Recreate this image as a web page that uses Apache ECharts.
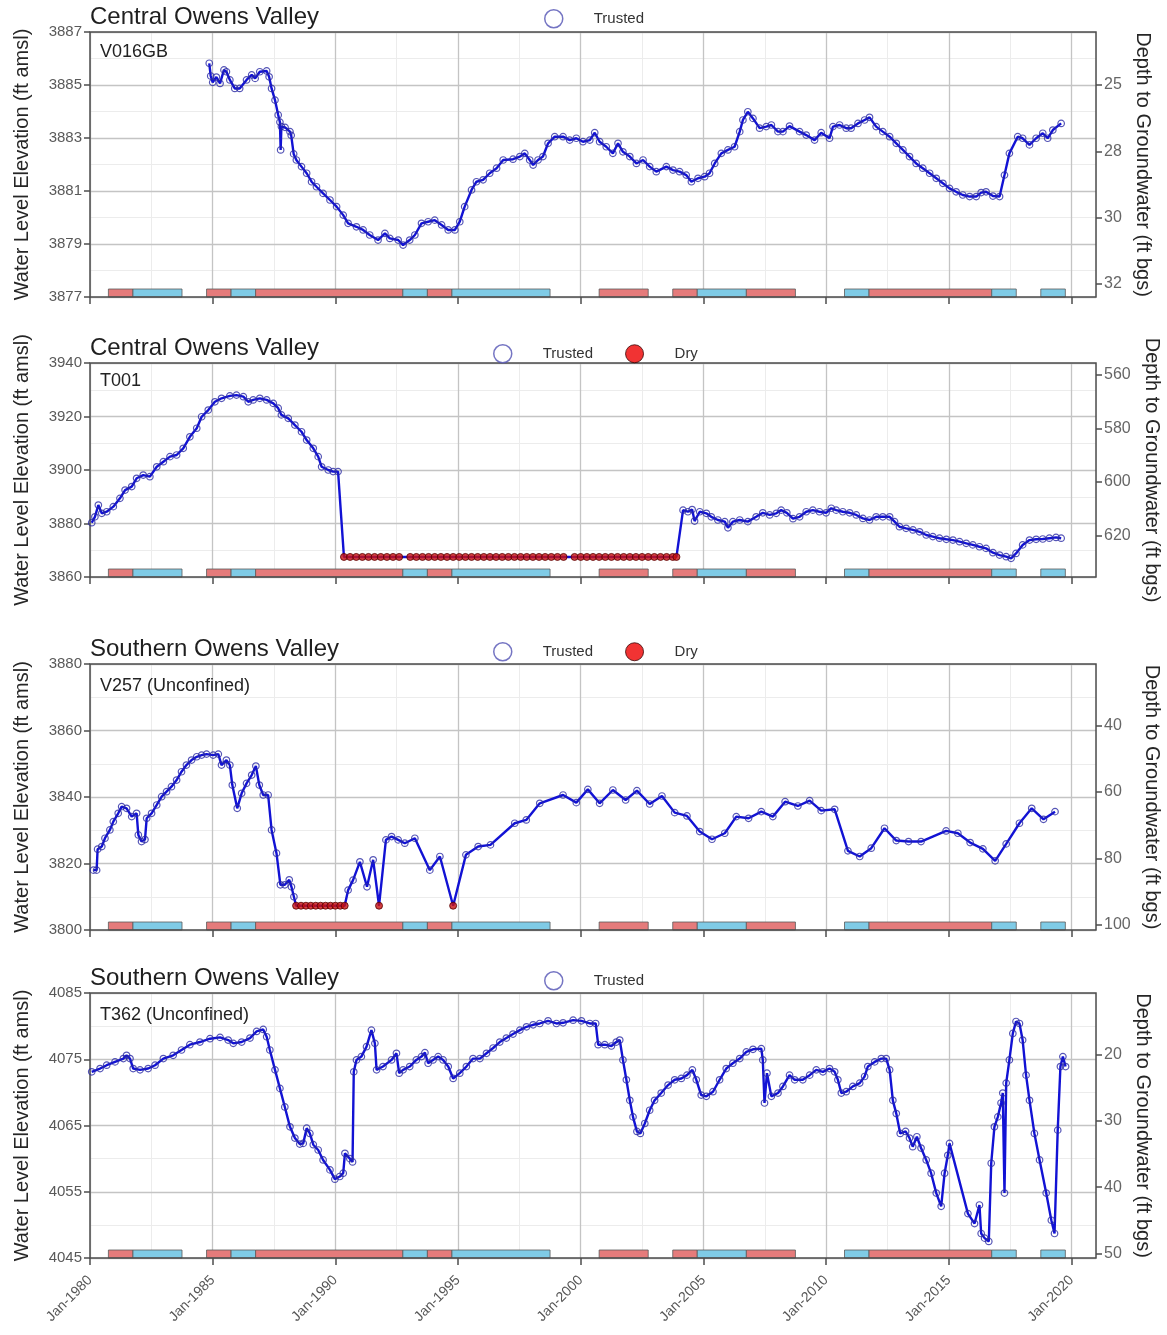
<!DOCTYPE html>
<html><head><meta charset="utf-8">
<script src="https://cdn.jsdelivr.net/npm/echarts@6/dist/echarts.min.js"></script>
<style>html,body{margin:0;padding:0;background:#fff}#c{width:1167px;height:1335px}</style>
</head><body><div id="c"></div>
<script>
// ---------- DATA ----------
const xTickYears = [1980,1985,1990,1995,2000,2005,2010,2015,2020];

// Water-year type bars (start, end as decimal years)
const wyStart = [1980.75,1981.75,1984.75,1985.75,1986.75,1992.75,1993.75,1994.75,2000.75,2003.75,2004.75,2006.75,2010.75,2011.75,2016.75,2018.75];
const wyEnd   = [1981.75,1983.75,1985.75,1986.75,1992.75,1993.75,1994.75,1998.75,2002.75,2004.75,2006.75,2008.75,2011.75,2016.75,2017.75,2019.75];
const wyType  = ['Dry','Wet','Dry','Wet','Dry','Wet','Dry','Wet','Dry','Dry','Wet','Dry','Wet','Dry','Wet','Wet'];

// Panel 1: V016GB
const v016gbTrusted = [[1984.86,3885.82],[1984.92,3885.34],[1985.0,3885.1],[1985.15,3885.3],[1985.3,3885.06],[1985.46,3885.57],[1985.56,3885.5],[1985.7,3885.19],[1985.9,3884.87],[1986.1,3884.87],[1986.38,3885.19],[1986.59,3885.38],[1986.73,3885.25],[1986.92,3885.5],[1987.2,3885.53],[1987.3,3885.31],[1987.4,3884.87],[1987.54,3884.43],[1987.67,3883.87],[1987.74,3883.6],[1987.77,3882.55],[1987.8,3883.43],[1987.95,3883.4],[1988.15,3883.24],[1988.2,3883.1],[1988.3,3882.4],[1988.41,3882.17],[1988.62,3881.92],[1988.83,3881.67],[1989.03,3881.35],[1989.23,3881.16],[1989.5,3880.91],[1989.78,3880.66],[1990.05,3880.41],[1990.32,3880.09],[1990.52,3879.78],[1990.86,3879.65],[1991.13,3879.53],[1991.4,3879.34],[1991.74,3879.15],[1992.02,3879.4],[1992.22,3879.21],[1992.56,3879.15],[1992.76,3878.96],[1993.03,3879.15],[1993.24,3879.34],[1993.51,3879.78],[1993.78,3879.84],[1994.05,3879.9],[1994.33,3879.72],[1994.6,3879.53],[1994.87,3879.53],[1995.07,3879.84],[1995.27,3880.41],[1995.55,3881.04],[1995.75,3881.35],[1996.02,3881.42],[1996.29,3881.67],[1996.57,3881.86],[1996.84,3882.17],[1997.24,3882.2],[1997.52,3882.3],[1997.72,3882.42],[1997.92,3882.17],[1998.06,3881.98],[1998.26,3882.17],[1998.46,3882.3],[1998.67,3882.8],[1998.94,3883.05],[1999.28,3883.05],[1999.55,3882.92],[1999.82,3882.99],[2000.09,3882.86],[2000.37,3882.92],[2000.57,3883.2],[2000.77,3882.86],[2001.04,3882.67],[2001.31,3882.42],[2001.52,3882.8],[2001.72,3882.48],[2002.0,3882.3],[2002.27,3882.04],[2002.54,3882.17],[2002.81,3881.92],[2003.08,3881.73],[2003.49,3881.92],[2003.76,3881.79],[2004.03,3881.73],[2004.3,3881.6],[2004.51,3881.35],[2004.78,3881.48],[2005.05,3881.54],[2005.25,3881.67],[2005.46,3882.04],[2005.73,3882.42],[2006.0,3882.55],[2006.27,3882.67],[2006.48,3883.24],[2006.61,3883.68],[2006.81,3883.99],[2007.02,3883.74],[2007.29,3883.37],[2007.56,3883.43],[2007.77,3883.49],[2008.04,3883.24],[2008.24,3883.24],[2008.51,3883.45],[2008.92,3883.24],[2009.19,3883.11],[2009.53,3882.92],[2009.8,3883.2],[2010.14,3882.99],[2010.28,3883.43],[2010.55,3883.49],[2010.82,3883.37],[2011.02,3883.37],[2011.3,3883.55],[2011.57,3883.68],[2011.77,3883.78],[2012.04,3883.43],[2012.31,3883.24],[2012.59,3883.05],[2012.86,3882.8],[2013.13,3882.55],[2013.4,3882.3],[2013.67,3882.04],[2013.94,3881.86],[2014.22,3881.67],[2014.49,3881.48],[2014.76,3881.29],[2015.03,3881.1],[2015.3,3880.97],[2015.57,3880.85],[2015.85,3880.79],[2016.12,3880.79],[2016.32,3880.94],[2016.52,3880.97],[2016.8,3880.81],[2017.07,3880.79],[2017.27,3881.6],[2017.47,3882.42],[2017.81,3883.05],[2018.01,3882.99],[2018.29,3882.74],[2018.56,3882.99],[2018.83,3883.18],[2019.03,3882.99],[2019.24,3883.3],[2019.58,3883.55]];
const v016gbDry = [];
const elevTicks1 = [3877,3879,3881,3883,3885,3887];
const depthTicks1 = [25,27.5,30,32.5];
const depthLabels1 = ['25','28','30','32'];
const landSurface1 = 3910;

// Panel 2: T001
const t001Trusted = [[1980.07,3880.3],[1980.2,3882.5],[1980.34,3886.9],[1980.48,3883.8],[1980.68,3884.4],[1980.95,3886.3],[1981.22,3889.4],[1981.43,3892.5],[1981.7,3893.8],[1981.9,3896.9],[1982.17,3898.1],[1982.44,3897.5],[1982.72,3901.2],[1982.99,3903.1],[1983.26,3905.0],[1983.53,3905.6],[1983.8,3908.1],[1984.07,3912.4],[1984.35,3915.6],[1984.55,3919.9],[1984.82,3922.4],[1985.09,3925.5],[1985.36,3926.8],[1985.7,3927.7],[1985.97,3928.0],[1986.25,3927.4],[1986.45,3925.5],[1986.65,3926.2],[1986.92,3926.8],[1987.2,3926.2],[1987.47,3924.9],[1987.67,3923.1],[1987.8,3920.6],[1988.08,3919.3],[1988.35,3916.8],[1988.62,3914.3],[1988.83,3911.2],[1989.1,3908.1],[1989.3,3905.0],[1989.44,3901.2],[1989.71,3900.0],[1989.91,3899.4],[1990.11,3899.4],
 [2004.17,3885.0],[2004.37,3884.4],[2004.54,3885.2],[2004.64,3880.9],[2004.85,3884.4],[2005.12,3883.8],[2005.32,3882.5],[2005.59,3881.3],[2005.87,3880.7],[2006.0,3878.4],[2006.2,3880.7],[2006.48,3881.3],[2006.81,3880.7],[2007.15,3882.5],[2007.42,3884.0],[2007.7,3883.2],[2007.97,3883.8],[2008.17,3885.0],[2008.4,3884.0],[2008.65,3881.8],[2008.92,3882.5],[2009.19,3884.4],[2009.46,3885.0],[2009.73,3884.4],[2010.0,3884.0],[2010.21,3885.7],[2010.41,3885.0],[2010.68,3884.4],[2010.96,3884.0],[2011.23,3883.2],[2011.5,3881.9],[2011.77,3881.3],[2012.04,3882.5],[2012.31,3882.5],[2012.59,3882.5],[2012.79,3880.7],[2012.99,3878.8],[2013.26,3878.2],[2013.54,3877.6],[2013.81,3876.9],[2014.08,3875.7],[2014.35,3875.1],[2014.62,3874.5],[2014.9,3874.1],[2015.17,3873.8],[2015.44,3873.2],[2015.71,3872.6],[2015.98,3872.0],[2016.25,3871.3],[2016.52,3870.7],[2016.8,3869.1],[2017.07,3868.2],[2017.34,3867.6],[2017.54,3867.0],[2017.74,3868.8],[2018.01,3872.0],[2018.29,3873.8],[2018.56,3874.1],[2018.83,3874.2],[2019.1,3874.5],[2019.37,3874.8],[2019.58,3874.5]];
const t001Dry = [[1990.35,3867.5],[1990.6,3867.5],[1990.85,3867.5],[1991.1,3867.5],[1991.35,3867.5],[1991.6,3867.5],[1991.85,3867.5],[1992.1,3867.5],[1992.35,3867.5],[1992.6,3867.5],
 [1993.05,3867.5],[1993.3,3867.5],[1993.55,3867.5],[1993.8,3867.5],[1994.05,3867.5],[1994.3,3867.5],[1994.55,3867.5],[1994.8,3867.5],[1995.05,3867.5],[1995.3,3867.5],[1995.55,3867.5],[1995.8,3867.5],[1996.05,3867.5],[1996.3,3867.5],[1996.55,3867.5],[1996.8,3867.5],[1997.05,3867.5],[1997.3,3867.5],[1997.55,3867.5],[1997.8,3867.5],[1998.05,3867.5],[1998.3,3867.5],[1998.55,3867.5],[1998.8,3867.5],[1999.05,3867.5],[1999.3,3867.5],
 [1999.75,3867.5],[2000.0,3867.5],[2000.25,3867.5],[2000.5,3867.5],[2000.75,3867.5],[2001.0,3867.5],[2001.25,3867.5],[2001.5,3867.5],[2001.75,3867.5],[2002.0,3867.5],[2002.25,3867.5],[2002.5,3867.5],[2002.75,3867.5],[2003.0,3867.5],[2003.25,3867.5],[2003.5,3867.5],[2003.75,3867.5],[2003.9,3867.5]];
const elevTicks2 = [3860,3880,3900,3920,3940];
const depthTicks2 = [560,580,600,620];
const depthLabels2 = ['560','580','600','620'];
const landSurface2 = 4495.5;

// Panel 3: V257
const v257Trusted = [[1980.14,3818.0],[1980.27,3818.0],[1980.31,3824.3],[1980.48,3825.1],[1980.61,3827.6],[1980.81,3830.1],[1980.95,3832.6],[1981.15,3835.1],[1981.29,3837.1],[1981.49,3836.6],[1981.7,3834.1],[1981.9,3835.1],[1981.97,3828.6],[1982.1,3826.6],[1982.24,3827.2],[1982.31,3833.6],[1982.51,3835.1],[1982.72,3837.6],[1982.92,3840.1],[1983.12,3841.6],[1983.32,3843.1],[1983.53,3845.1],[1983.73,3847.6],[1983.93,3849.6],[1984.14,3851.1],[1984.35,3852.1],[1984.55,3852.6],[1984.75,3852.9],[1985.02,3852.6],[1985.23,3852.9],[1985.36,3849.6],[1985.56,3851.1],[1985.7,3849.6],[1985.8,3843.6],[1986.0,3836.6],[1986.18,3841.1],[1986.38,3844.1],[1986.59,3846.6],[1986.76,3849.3],[1986.9,3843.6],[1987.06,3840.6],[1987.26,3840.6],[1987.4,3830.1],[1987.6,3823.1],[1987.76,3813.6],[1987.94,3813.6],[1988.12,3815.1],[1988.21,3813.0],[1988.31,3810.0],
 [1990.52,3812.0],[1990.72,3815.0],[1991.0,3820.5],[1991.29,3813.0],[1991.54,3821.1],[1992.06,3827.1],[1992.29,3828.1],[1992.56,3827.1],[1992.83,3826.1],[1993.24,3827.6],[1993.85,3818.0],[1994.26,3822.1],
 [1995.32,3822.6],[1995.82,3825.1],[1996.32,3825.6],[1997.31,3832.1],[1997.78,3833.1],[1998.33,3838.1],[1999.28,3840.6],[1999.82,3838.3],[2000.29,3842.3],[2000.77,3838.1],[2001.31,3842.1],[2001.83,3839.1],[2002.29,3841.9],[2002.81,3837.9],[2003.31,3840.3],[2003.83,3835.3],[2004.33,3834.3],[2004.85,3829.6],[2005.35,3827.3],[2005.87,3829.1],[2006.34,3834.1],[2006.84,3833.6],[2007.36,3835.6],[2007.83,3834.1],[2008.33,3838.6],[2008.85,3837.3],[2009.33,3838.9],[2009.8,3835.9],[2010.35,3836.3],[2010.89,3823.8],[2011.37,3822.1],[2011.84,3824.6],[2012.38,3830.6],[2012.86,3826.9],[2013.36,3826.6],[2013.87,3826.6],[2014.89,3829.8],[2015.37,3829.1],[2015.87,3826.3],[2016.39,3824.4],[2016.89,3820.8],[2017.34,3825.9],[2017.88,3832.1],[2018.38,3836.6],[2018.86,3833.3],[2019.33,3835.6]];
const v257Dry = [[1988.4,3807.3],[1988.6,3807.3],[1988.8,3807.3],[1989.0,3807.3],[1989.2,3807.3],[1989.4,3807.3],[1989.6,3807.3],[1989.8,3807.3],[1990.0,3807.3],[1990.2,3807.3],[1990.38,3807.3],[1991.78,3807.3],[1994.8,3807.3]];
const elevTicks3 = [3800,3820,3840,3860,3880];
const depthTicks3 = [40,60,80,100];
const depthLabels3 = ['40','60','80','100'];
const landSurface3 = 3901.5;

// Panel 4: T362
const t362Trusted = [[1980.07,4073.1],[1980.41,4073.6],[1980.68,4074.1],[1981.02,4074.6],[1981.36,4075.1],[1981.49,4075.6],[1981.63,4075.1],[1981.76,4073.6],[1982.04,4073.4],[1982.37,4073.6],[1982.65,4074.1],[1982.99,4075.1],[1983.39,4075.6],[1983.73,4076.4],[1984.07,4077.2],[1984.48,4077.6],[1984.89,4078.1],[1985.3,4078.3],[1985.63,4077.9],[1985.84,4077.4],[1986.18,4077.6],[1986.52,4078.2],[1986.79,4079.2],[1987.06,4079.5],[1987.2,4078.4],[1987.33,4076.4],[1987.54,4073.4],[1987.74,4070.6],[1987.94,4067.8],[1988.15,4064.8],[1988.35,4063.1],[1988.55,4062.2],[1988.69,4062.3],[1988.83,4064.6],[1988.96,4063.8],[1989.1,4062.1],[1989.3,4061.3],[1989.5,4059.8],[1989.78,4058.3],[1989.98,4056.9],[1990.18,4057.3],[1990.32,4057.8],[1990.39,4060.8],[1990.59,4060.0],[1990.7,4059.5],[1990.75,4073.1],[1990.86,4074.9],[1991.06,4075.4],[1991.27,4076.9],[1991.47,4079.4],[1991.61,4077.4],[1991.68,4073.4],[1991.94,4073.9],[1992.29,4074.9],[1992.49,4075.9],[1992.6,4072.9],[1992.76,4073.4],[1993.03,4073.9],[1993.3,4074.9],[1993.51,4075.4],[1993.65,4076.0],[1993.78,4074.4],[1993.98,4074.9],[1994.19,4075.4],[1994.39,4074.9],[1994.6,4073.9],[1994.8,4072.1],[1995.07,4072.9],[1995.34,4073.9],[1995.61,4075.1],[1995.89,4075.1],[1996.16,4075.9],[1996.43,4076.7],[1996.7,4077.6],[1996.97,4078.2],[1997.24,4078.8],[1997.52,4079.4],[1997.79,4079.9],[1998.06,4080.2],[1998.33,4080.4],[1998.67,4080.8],[1999.01,4080.4],[1999.28,4080.5],[1999.69,4080.9],[2000.03,4080.8],[2000.37,4080.4],[2000.61,4080.4],[2000.71,4077.2],[2000.98,4077.2],[2001.25,4077.0],[2001.45,4077.6],[2001.59,4077.9],[2001.72,4074.9],[2001.86,4071.9],[2002.0,4068.8],[2002.13,4066.3],[2002.29,4064.1],[2002.43,4063.8],[2002.61,4065.3],[2002.81,4067.3],[2003.01,4068.8],[2003.28,4069.9],[2003.56,4071.1],[2003.83,4071.9],[2004.1,4072.1],[2004.33,4072.6],[2004.55,4073.4],[2004.71,4071.9],[2004.91,4069.6],[2005.12,4069.4],[2005.39,4070.1],[2005.66,4071.9],[2005.93,4073.6],[2006.2,4074.4],[2006.48,4075.1],[2006.75,4076.1],[2007.02,4076.5],[2007.36,4076.6],[2007.42,4074.9],[2007.49,4068.4],[2007.59,4072.9],[2007.77,4069.4],[2008.04,4069.9],[2008.24,4070.9],[2008.51,4072.6],[2008.72,4071.9],[2009.05,4071.9],[2009.33,4072.6],[2009.6,4073.4],[2009.87,4073.1],[2010.14,4073.6],[2010.35,4073.1],[2010.48,4071.9],[2010.62,4069.9],[2010.82,4070.1],[2011.09,4070.9],[2011.37,4071.4],[2011.57,4072.4],[2011.7,4073.9],[2011.98,4074.6],[2012.25,4075.1],[2012.45,4075.1],[2012.59,4073.4],[2012.72,4068.8],[2012.86,4066.8],[2013.02,4063.8],[2013.24,4064.1],[2013.4,4063.1],[2013.53,4061.8],[2013.7,4063.3],[2013.87,4061.6],[2014.08,4059.8],[2014.28,4057.8],[2014.49,4054.8],[2014.69,4052.8],[2014.83,4057.8],[2014.96,4060.5],[2015.03,4062.3],[2015.78,4051.7],[2016.05,4050.2],[2016.25,4053.0],[2016.32,4048.7],[2016.46,4048.0],[2016.63,4047.5],[2016.73,4059.3],[2016.86,4064.8],[2017.0,4066.3],[2017.13,4068.4],[2017.2,4069.9],[2017.27,4054.8],[2017.34,4071.4],[2017.47,4074.9],[2017.61,4078.9],[2017.74,4080.7],[2017.88,4080.4],[2018.01,4077.9],[2018.15,4072.6],[2018.29,4068.8],[2018.49,4063.8],[2018.7,4059.8],[2018.97,4054.8],[2019.18,4050.7],[2019.31,4048.7],[2019.44,4064.3],[2019.55,4073.9],[2019.65,4075.4],[2019.76,4073.9]];
const t362Dry = [];
const elevTicks4 = [4045,4055,4065,4075,4085];
const depthTicks4 = [20,30,40,50];
const depthLabels4 = ['20','30','40','50'];
const landSurface4 = 4095.7;

const regionNames = ['Central Owens Valley','Central Owens Valley','Southern Owens Valley','Southern Owens Valley'];
const wellNames = ['V016GB','T001','V257 (Unconfined)','T362 (Unconfined)'];

// ---------- BUILD ----------
const panels = [
  {trusted:v016gbTrusted, dry:v016gbDry, ticks:elevTicks1, minor:1, lse:landSurface1, dT:depthTicks1, dL:depthLabels1},
  {trusted:t001Trusted, dry:t001Dry, ticks:elevTicks2, minor:10, lse:landSurface2, dT:depthTicks2, dL:depthLabels2},
  {trusted:v257Trusted, dry:v257Dry, ticks:elevTicks3, minor:10, lse:landSurface3, dT:depthTicks3, dL:depthLabels3},
  {trusted:t362Trusted, dry:t362Dry, ticks:elevTicks4, minor:5, lse:landSurface4, dT:depthTicks4, dL:depthLabels4}
];
const layout = [
  {top:32, height:265, legTop:9, legLeft:544, wellTop:41},
  {top:363, height:214, legTop:344, legLeft:493, wellTop:370},
  {top:664, height:266, legTop:642, legLeft:493, wellTop:675},
  {top:993, height:265, legTop:971, legLeft:544, wellTop:1004}
];
const frame = '#4d4d4d';
const grid=[], xAxis=[], yAxis=[], series=[], title=[], legend=[];
const trustedLeg = {name:'Trusted', icon:'circle', itemStyle:{color:'#ffffff', borderColor:'#5252b4', borderWidth:1.5}};
const dryLeg = {name:'Dry', icon:'circle', itemStyle:{color:'#ee0000', borderColor:'#3a0000', borderWidth:1}};

panels.forEach((p,i)=>{
  const L = layout[i];
  const yMin = p.ticks[0], yMax = p.ticks[p.ticks.length-1];
  grid.push({left:90, width:1006, top:L.top, height:L.height, show:true, borderColor:frame, borderWidth:1.5,
    backgroundColor:'rgba(0,0,0,0)', z:3, containLabel:false, outerBoundsMode:'none'});
  xAxis.push({gridIndex:i, type:'value', position:'bottom', min:1980, max:2021, z:1,
    axisLine:{show:false},
    axisTick:{show:true, customValues:xTickYears, length:7, lineStyle:{color:frame, width:1.5}},
    axisLabel:{show:i===3, customValues:xTickYears, rotate:45, margin:20, fontSize:14, color:'#555', formatter:v=>'Jan-'+v},
    splitLine:{show:true, lineStyle:{color:'#c4c4c4', width:1.3}}});
  xAxis.push({gridIndex:i, type:'value', position:'top', min:1980, max:2021, interval:2.5, z:0,
    axisLine:{show:false}, axisTick:{show:false}, axisLabel:{show:false},
    splitLine:{show:true, lineStyle:{color:'#ececec', width:1}}});
  yAxis.push({gridIndex:i, type:'value', position:'left', min:yMin, max:yMax, z:1,
    axisLine:{show:false},
    axisTick:{show:true, customValues:p.ticks, length:6, lineStyle:{color:frame, width:1.5}},
    axisLabel:{customValues:p.ticks, fontSize:15, color:'#595959', margin:8, formatter:v=>String(v)},
    splitLine:{show:true, lineStyle:{color:'#c4c4c4', width:1.3}},
    name:'Water Level Elevation (ft amsl)', nameLocation:'middle', nameGap:58,
    nameTextStyle:{fontSize:20, color:'#262626'}});
  yAxis.push({gridIndex:i, type:'value', position:'right', inverse:true, min:p.lse-yMax, max:p.lse-yMin, z:1,
    axisLine:{show:false},
    axisTick:{show:true, customValues:p.dT, length:6, lineStyle:{color:frame, width:1.5}},
    axisLabel:{customValues:p.dT, fontSize:16, color:'#666', margin:8, formatter:v=>{const k=p.dT.indexOf(v);return k>=0?p.dL[k]:'';}},
    splitLine:{show:false},
    name:'Depth to Groundwater (ft bgs)', nameLocation:'middle', nameRotate:-90, nameGap:36,
    nameTextStyle:{fontSize:20, color:'#262626'}});
  yAxis.push({gridIndex:i, type:'value', position:'left', min:yMin, max:yMax, interval:p.minor, z:0,
    axisLine:{show:false}, axisTick:{show:false}, axisLabel:{show:false},
    splitLine:{show:true, lineStyle:{color:'#ececec', width:1}}});
  const xi = 2*i, yi = 3*i;
  series.push({type:'custom', name:'wy'+i, xAxisIndex:xi, yAxisIndex:yi, silent:true, z:1, clip:false,
    encode:{x:[0,1], y:3},
    data: wyStart.map((s,k)=>[s, wyEnd[k], wyType[k]==='Dry'?1:0, yMin]),
    renderItem:(params, api)=>{
      const a = api.coord([api.value(0), api.value(3)]);
      const b = api.coord([api.value(1), api.value(3)]);
      return {type:'rect', shape:{x:a[0], y:a[1]-8, width:b[0]-a[0], height:8},
        style:{fill: api.value(2)===1 ? '#e57b7b' : '#7fcbe6', stroke:'#5a5a5a', lineWidth:0.8}};
    }});
  const all = p.trusted.concat(p.dry).sort((a,b)=>a[0]-b[0]);
  series.push({type:'line', name:'level'+i, xAxisIndex:xi, yAxisIndex:yi, data:all, showSymbol:false, symbol:'none',
    lineStyle:{color:'#1212d4', width:2.4}, z:2, silent:true});
  series.push({type:'scatter', name:'Trusted', xAxisIndex:xi, yAxisIndex:yi, data:p.trusted, symbol:'circle', symbolSize:6.5,
    itemStyle:{color:'rgba(255,255,255,0)', borderColor:'#2a2aa4', borderWidth:1.2}, z:3, silent:true});
  if (p.dry.length) {
    series.push({type:'scatter', name:'Dry', xAxisIndex:xi, yAxisIndex:yi, data:p.dry, symbol:'circle', symbolSize:7,
      itemStyle:{color:'#cc1111', borderColor:'#550000', borderWidth:1}, z:4, silent:true});
  }
  title.push({text:regionNames[i], left:90, top:L.top-28, padding:0,
    textStyle:{fontSize:24, fontWeight:'normal', color:'#1f1f1f', lineHeight:27}});
  title.push({text:wellNames[i], left:100, top:L.wellTop, padding:0,
    textStyle:{fontSize:18, fontWeight:'normal', color:'#222', lineHeight:22}});
  legend.push({top:L.legTop, left:L.legLeft, padding:0, itemWidth:18, itemHeight:18, itemGap:32, selectedMode:false,
    data: p.dry.length ? [trustedLeg, dryLeg] : [trustedLeg],
    textStyle:{fontSize:15, color:'#333', padding:[0,0,0,26]}});
});

const chart = echarts.init(document.getElementById('c'), null, {renderer:'canvas'});
chart.setOption({
  animation:false,
  backgroundColor:'#ffffff',
  textStyle:{fontFamily:"'Liberation Sans', Arial, sans-serif"},
  title, legend, grid, xAxis, yAxis, series
});
</script></body></html>
